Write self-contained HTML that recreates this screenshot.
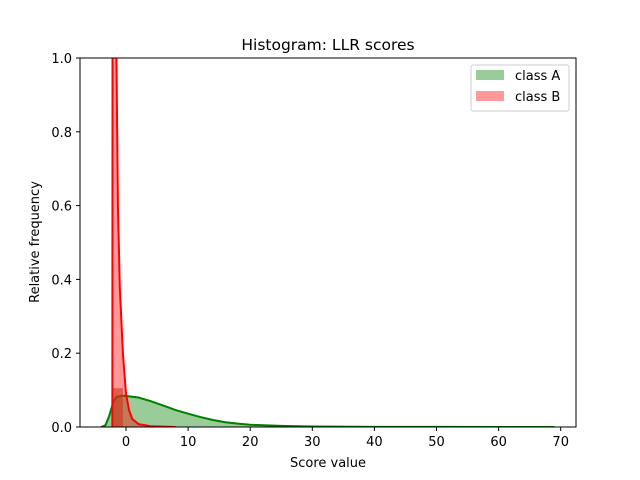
<!DOCTYPE html>
<html><head><meta charset="utf-8"><style>
body{margin:0;background:#fff}
svg{display:block;font-family:"DejaVu Sans","Liberation Sans",sans-serif}
</style></head><body>
<svg id="c" width="640" height="480"></svg>
<script>
const xTicks=[0,10,20,30,40,50,60,70];
const yTicks=[0.0,0.2,0.4,0.6,0.8,1.0];
const greenX=[-4,-3.3,-2.7,-2,-1.5,-0.5,0.5,2,4,6,8,10,12,14,16,18,20,25,30,40,50,60,69];
const greenY=[0,0.005,0.03,0.07,0.082,0.085,0.083,0.08,0.07,0.058,0.046,0.036,0.027,0.019,0.013,0.009,0.006,0.003,0.0015,0.0005,0.0002,0.0001,0];
const redX=[-2.2,-2.15,-2.0,-1.85,-1.6,-1.3,-1.0,-0.5,0,0.5,1,2,4,8];
const redY=[0,1.6,2.2,1.8,1.1,0.6,0.38,0.2,0.09,0.045,0.022,0.008,0.002,0];
const barBins=[[-2.2,-0.5]];
const barHeights=[0.105];
const L=80,R=576,T=58,B=427;
const sx=v=>126+v*6.21, sy=v=>B-v*(B-T);
const svg=document.getElementById('c');const NS='http://www.w3.org/2000/svg';
function el(t,a,p){const e=document.createElementNS(NS,t);for(const k in a)e.setAttribute(k,a[k]);(p||svg).appendChild(e);return e;}
const defs=el('defs',{});const cp=el('clipPath',{id:'clip'},defs);el('rect',{x:L,y:T,width:R-L,height:B-T},cp);
const g=el('g',{'clip-path':'url(#clip)'});
function area(xs,ys,fill,stroke,name){
 let d='M'+sx(xs[0])+','+sy(0);xs.forEach((x,i)=>d+='L'+sx(x)+','+sy(ys[i]));d+='L'+sx(xs[xs.length-1])+','+sy(0)+'Z';
 const a=el('path',{d,fill,stroke:'none'},g);
 
 
 let l='';xs.forEach((x,i)=>l+=(i?'L':'M')+sx(x)+','+sy(ys[i]));
 const p=el('path',{d:l,fill:'none',stroke,'stroke-width':2},g);
 
 
}
area(greenX,greenY,'rgba(0,128,0,0.4)','#008000','class-a');
barBins.forEach((b,i)=>{const r=el('rect',{x:sx(b[0]),y:sy(barHeights[i]),width:sx(b[1])-sx(b[0]),height:sy(0)-sy(barHeights[i]),fill:'rgba(170,90,40,0.6)'},g);
 
 });
area(redX,redY,'rgba(255,0,0,0.4)','#ff0000','class-b');
el('rect',{x:L,y:T,width:R-L,height:B-T,fill:'none',stroke:'#000','stroke-width':1,});
xTicks.forEach(v=>{const x=sx(v);el('line',{x1:x,x2:x,y1:B,y2:B+4,stroke:'#000'});
 const t=el('text',{x:x,y:B+19,'text-anchor':'middle','font-size':13});t.textContent=v;
 
 });
yTicks.forEach(v=>{const y=sy(v);el('line',{x1:L-4,x2:L,y1:y,y2:y,stroke:'#000'});
 const t=el('text',{x:L-8,y:y+5,'text-anchor':'end','font-size':13});t.textContent=v.toFixed(1);
 
 });
</script>
<script>
(function(){const svg=document.getElementById('c');
svg.insertAdjacentHTML('beforeend',
'<text x="328" y="50" text-anchor="middle" font-size="15.5">Histogram: LLR scores</text>'+
'<text x="328" y="467" text-anchor="middle" font-size="13">Score value</text>'+
'<text x="39" y="242" text-anchor="middle" font-size="13" transform="rotate(-90 39 242)">Relative frequency</text>'+
'<g><rect x="471" y="65" width="98" height="46" rx="2" fill="#fff" fill-opacity="0.8" stroke="#ccc"/>'+
'<rect x="476" y="70" width="28" height="10" fill="rgb(153,204,153)"/>'+
'<text x="515" y="80" font-size="13">class A</text>'+
'<rect x="476" y="91" width="28" height="10" fill="rgb(255,153,153)"/>'+
'<text x="515" y="101" font-size="13">class B</text></g>');})();
</script>
</body></html>
